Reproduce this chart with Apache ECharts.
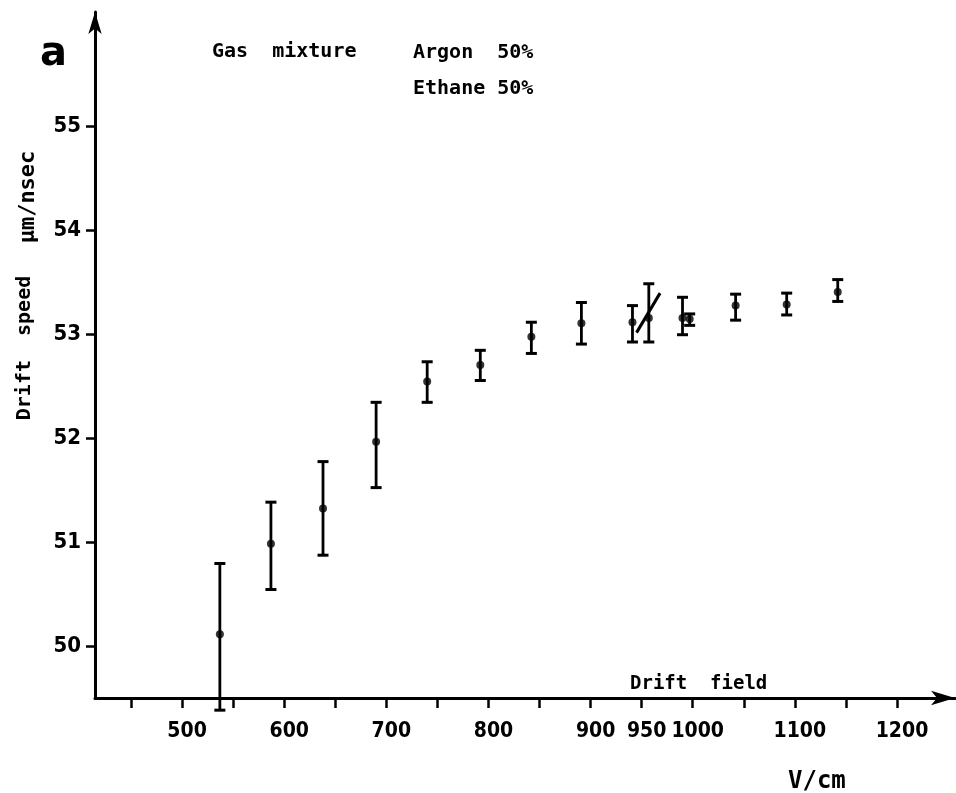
<!DOCTYPE html>
<html><head><meta charset="utf-8">
<script src="https://cdn.jsdelivr.net/npm/echarts@6/dist/echarts.min.js"></script>
<style>html,body{margin:0;padding:0;background:#fff}#c{width:956px;height:793px}</style>
</head><body><div id="c"></div>
<script>
// Drift field (V/cm)
const field   = [537, 587, 638, 690, 740, 792, 842, 891, 941, 957, 990, 997, 1042, 1092, 1142];
// Drift speed (µm/nsec)
const speed   = [50.12, 50.99, 51.33, 51.97, 52.55, 52.71, 52.98, 53.11, 53.12, 53.16, 53.16, 53.15, 53.28, 53.29, 53.41];
const errLow  = [49.39, 50.55, 50.88, 51.53, 52.35, 52.56, 52.82, 52.91, 52.93, 52.93, 53.00, 53.09, 53.14, 53.19, 53.32];
const errHigh = [50.80, 51.39, 51.78, 52.35, 52.74, 52.85, 53.12, 53.31, 53.28, 53.49, 53.36, 53.20, 53.39, 53.40, 53.53];
// hand-drawn stroke near 950 V/cm
const strokeX = [945, 968];
const strokeY = [53.02, 53.40];
// axis ticks and labels
const xTicks  = [450, 500, 550, 600, 650, 700, 750, 800, 850, 900, 950, 1000, 1050, 1100, 1150, 1200];
const xLabels = [500, 600, 700, 800, 900, 950, 1000, 1100, 1200];
const yTicks  = [50, 51, 52, 53, 54, 55];

const MONO = '"DejaVu Sans Mono", monospace';
const COND = '"DejaVu Sans Condensed", "DejaVu Sans", sans-serif';

const chart = echarts.init(document.getElementById('c'), null, {renderer: 'canvas'});
chart.setOption({
  backgroundColor: '#fff',
  animation: false,
  grid: {left: 95, right: 1, top: 12, bottom: 95},
  xAxis: {
    type: 'value', min: 414.75, max: 1256.8,
    axisLine: {onZero: false, symbol: ['none', 'arrow'], symbolSize: [11, 24], lineStyle: {color: '#000', width: 3}},
    axisTick: {show: true, customValues: xTicks, length: 10, lineStyle: {color: '#000', width: 2.5}},
    axisLabel: {customValues: xLabels, formatter: v => String(v), color: '#000', fontFamily: COND, fontWeight: 'bold', fontSize: 21, margin: 23, padding: [0, 0, 0, 10]},
    splitLine: {show: false}
  },
  yAxis: {
    type: 'value', min: 49.507, max: 56.103,
    axisLine: {onZero: false, symbol: ['none', 'arrow'], symbolSize: [10, 22], lineStyle: {color: '#000', width: 3}},
    axisTick: {show: true, customValues: yTicks, length: 9, lineStyle: {color: '#000', width: 2.5}},
    axisLabel: {customValues: yTicks, formatter: v => String(v), color: '#000', fontFamily: COND, fontWeight: 'bold', fontSize: 22, margin: 14},
    splitLine: {show: false}
  },
  graphic: [
    {type: 'text', left: 40, top: 35, style: {text: 'a', font: 'bold 40px "DejaVu Sans", sans-serif', fill: '#000'}},
    {type: 'text', left: 212, top: 42, style: {text: 'Gas  mixture', font: 'bold 20px ' + MONO, fill: '#000'}},
    {type: 'text', left: 413, top: 43, style: {text: 'Argon  50%', font: 'bold 20px ' + MONO, fill: '#000'}},
    {type: 'text', left: 413, top: 79, style: {text: 'Ethane 50%', font: 'bold 20px ' + MONO, fill: '#000'}},
    {type: 'text', left: 630, top: 675, style: {text: 'Drift  field', font: 'bold 19px ' + MONO, fill: '#000'}},
    {type: 'text', left: 788, top: 770, style: {text: 'V/cm', font: 'bold 24px ' + MONO, fill: '#000'}},
    {type: 'text', x: 25, y: 348, rotation: Math.PI / 2,
     style: {text: 'Drift  speed', font: 'bold 20px ' + MONO, fill: '#000', align: 'center', verticalAlign: 'middle'}},
    {type: 'text', x: 28, y: 197, rotation: Math.PI / 2,
     style: {text: '\u03bcm/nsec', font: 'bold 22px ' + MONO, fill: '#000', align: 'center', verticalAlign: 'middle'}}
  ],
  series: [
    {
      type: 'custom',
      data: field.map((x, i) => [x, errLow[i], errHigh[i]]),
      renderItem: function (params, api) {
        const x = api.value(0), lo = api.value(1), hi = api.value(2);
        const a = api.coord([x, hi]), b = api.coord([x, lo]);
        const w = 5.5;
        const st = {stroke: '#000', lineWidth: 2.8};
        const cs = {stroke: '#000', lineWidth: 3};
        return {type: 'group', children: [
          {type: 'line', shape: {x1: a[0], y1: a[1], x2: b[0], y2: b[1]}, style: st},
          {type: 'line', shape: {x1: a[0] - w, y1: a[1], x2: a[0] + w, y2: a[1]}, style: cs},
          {type: 'line', shape: {x1: b[0] - w, y1: b[1], x2: b[0] + w, y2: b[1]}, style: cs}
        ]};
      },
      z: 3
    },
    {
      type: 'scatter',
      data: field.map((x, i) => [x, speed[i]]),
      symbol: 'circle', symbolSize: 8,
      itemStyle: {color: '#000'},
      z: 4
    },
    {
      type: 'line',
      data: strokeX.map((x, i) => [x, strokeY[i]]),
      showSymbol: false,
      lineStyle: {color: '#000', width: 3},
      z: 4
    }
  ]
});
</script>
</body></html>
